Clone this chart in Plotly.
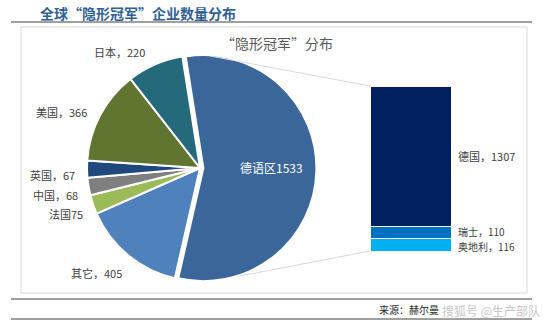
import plotly.graph_objects as go

W, H = 550, 331

# Data
pie_labels = ["德语区", "其它", "法国", "中国", "英国", "美国", "日本"]
pie_values = [1533, 405, 75, 68, 67, 366, 220]
pie_colors = ["#3A6699", "#4F81BD", "#9BBB59", "#7F7F7F", "#1F497D", "#5F7530", "#246A7A"]
pie_label_fmt = ["{}{}", "{}，{}", "{}{}", "{}，{}", "{}，{}", "{}，{}", "{}，{}"]

bar_labels = ["奥地利", "瑞士", "德国"]
bar_values = [116, 110, 1307]
bar_colors = ["#00B0F0", "#0070C0", "#002060"]

def px(x):
    return x / W

def py(y):
    return 1 - y / H

fig = go.Figure()

# Pie
cx, cy, pull = 200, 168, 0.03
r = 113 * (1 + pull)
fig.add_trace(go.Pie(
    labels=pie_labels, values=pie_values, sort=False, direction="clockwise",
    rotation=-9, pull=[pull] + [0] * (len(pie_values) - 1),
    marker=dict(colors=pie_colors, line=dict(color="white", width=2)),
    textinfo="none", hoverinfo="label+value", showlegend=False,
    domain=dict(x=[px(cx - r), px(cx + r)], y=[py(cy + r), py(cy - r)]),
))

# Stacked bar
for lab, val, col in zip(bar_labels, bar_values, bar_colors):
    fig.add_trace(go.Bar(
        x=[0], y=[val], name=lab, marker=dict(color=col, line=dict(color="white", width=1)),
        width=1, xaxis="x2", yaxis="y2", showlegend=False,
    ))

total = sum(bar_values)
fig.update_layout(
    barmode="stack",
    width=W, height=H,
    margin=dict(l=0, r=0, t=0, b=0),
    paper_bgcolor="white", plot_bgcolor="white",
    xaxis2=dict(domain=[px(370), px(451)], range=[-0.5, 0.5], visible=False, anchor="y2"),
    yaxis2=dict(domain=[py(251), py(86)], range=[0, total], visible=False, anchor="x2"),
    font=dict(family="Noto Sans CJK SC", color="#404040"),
)

ann = []
# Pie label positions (pixel centres)
pie_pos = {
    "日本": (119, 52), "美国": (61, 112), "英国": (52, 175), "中国": (55, 195),
    "法国": (66, 214), "其它": (96, 273),
}
for lab, val, fmt in zip(pie_labels, pie_values, pie_label_fmt):
    if lab == "德语区":
        ann.append(dict(x=px(271), y=py(167), xref="paper", yref="paper",
                        xanchor="center", yanchor="middle",
                        text=fmt.format(lab, val), showarrow=False,
                        font=dict(size=12, color="white")))
    else:
        x, y = pie_pos[lab]
        ann.append(dict(x=px(x), y=py(y), xref="paper", yref="paper",
                        xanchor="center", yanchor="middle",
                        text=fmt.format(lab, val), showarrow=False,
                        font=dict(size=11, color="#404040")))

# Bar labels
cum = 0
bar_label_size = {"德国": 11, "瑞士": 10, "奥地利": 10}
bar_label_shift = {"德国": 0, "瑞士": 1.5, "奥地利": -1.5}
for lab, val in zip(bar_labels, bar_values):
    mid = cum + val / 2
    cum += val
    ann.append(dict(x=0.5, y=mid, xref="x2", yref="y2", xanchor="left", yanchor="middle",
                    xshift=5, yshift=bar_label_shift[lab], text=f"{lab}，{val}", showarrow=False,
                    font=dict(size=bar_label_size[lab], color="#404040")))

# Titles and source
ann.append(dict(x=px(38), y=py(13), xref="paper", yref="paper", xanchor="left", yanchor="middle",
                text="<b>全球“隐形冠军”企业数量分布</b>", showarrow=False,
                font=dict(size=14, color="#2F5F97")))
ann.append(dict(x=px(277), y=py(43), xref="paper", yref="paper", xanchor="center", yanchor="middle",
                text="“隐形冠军”分布", showarrow=False,
                font=dict(size=14, color="#595959")))
ann.append(dict(x=px(377), y=py(309), xref="paper", yref="paper", xanchor="left", yanchor="middle",
                text="来源：赫尔曼", showarrow=False,
                font=dict(size=10, color="#262626")))
ann.append(dict(x=px(440), y=py(310), xref="paper", yref="paper", xanchor="left", yanchor="middle",
                text="搜狐号 @生产部队", showarrow=False,
                font=dict(size=12, color="rgba(190,190,190,0.9)")))
fig.update_layout(annotations=ann)

shapes = [
    dict(type="line", xref="paper", yref="paper", x0=px(11), x1=px(532), y0=py(22), y1=py(22),
         line=dict(color="#7F7F7F", width=1.5)),
    dict(type="rect", xref="paper", yref="paper", x0=px(21), x1=px(527), y0=py(293), y1=py(27),
         line=dict(color="#D9D9D9", width=1)),
    dict(type="line", xref="paper", yref="paper", x0=px(11), x1=px(532), y0=py(299), y1=py(299),
         line=dict(color="#7F7F7F", width=1.5)),
    dict(type="line", xref="paper", yref="paper", x0=px(11), x1=px(532), y0=py(319), y1=py(319),
         line=dict(color="#7F7F7F", width=1.5)),
    dict(type="line", xref="paper", yref="paper", x0=px(210), x1=px(370), y0=py(56), y1=py(86),
         line=dict(color="#D9D9D9", width=1)),
    dict(type="line", xref="paper", yref="paper", x0=px(240), x1=px(370), y0=py(276), y1=py(251),
         line=dict(color="#D9D9D9", width=1)),
]
fig.update_layout(shapes=shapes)

fig.write_html("out.html")
